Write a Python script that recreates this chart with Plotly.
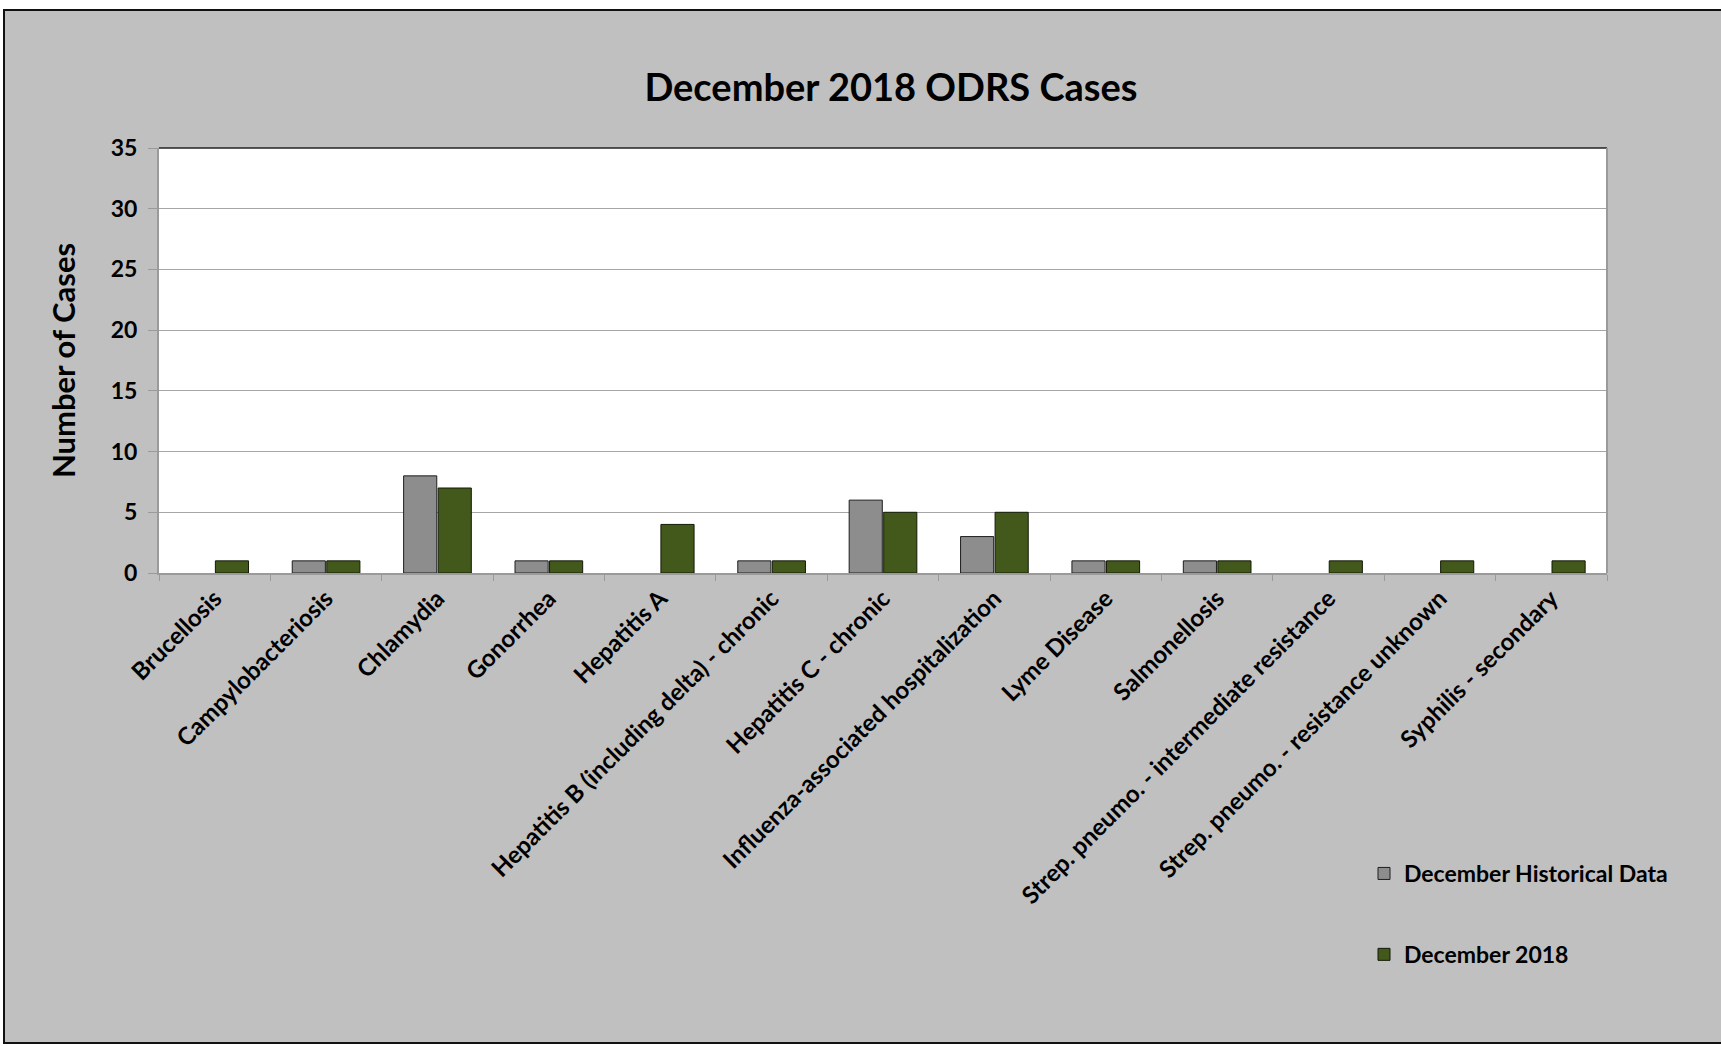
import plotly.graph_objects as go

categories = [
    "Brucellosis", "Campylobacteriosis", "Chlamydia", "Gonorrhea", "Hepatitis A",
    "Hepatitis B (including delta) - chronic", "Hepatitis C - chronic",
    "Influenza-associated hospitalization", "Lyme Disease", "Salmonellosis",
    "Strep. pneumo. - intermediate resistance", "Strep. pneumo. - resistance unknown",
    "Syphilis - secondary",
]
# None = no bar shown in the reference
historical = [None, 1, 8, 1, None, 1, 6, 3, 1, 1, None, None, None]
dec2018 = [1, 1, 7, 1, 4, 1, 5, 5, 1, 1, 1, 1, 1]
y_ticks = [0, 5, 10, 15, 20, 25, 30, 35]

FONT = "Lato"

fig = go.Figure()
fig.add_trace(go.Bar(
    x=categories, y=historical, name="<b>December Historical Data</b>",
    marker=dict(color="#8d8d8d", line=dict(color="#1e1e1e", width=1)),
    legendgroup="a",
))
fig.add_trace(go.Bar(
    x=categories, y=dec2018, name="<b>December 2018</b>",
    marker=dict(color="#42591b", line=dict(color="#141a08", width=1)),
    legendgroup="b",
))

L, R, T, B = 159, 114, 148, 473
W, H = 1721, 1046
pw, ph = W - L - R, H - T - B

def px_x(p):
    return (p - L) / pw

def px_y(p):
    return (H - B - p) / ph

shapes = [
    dict(type="rect", xref="paper", yref="paper", x0=px_x(-5), x1=px_x(W + 5), y0=px_y(10), y1=px_y(-5),
         fillcolor="white", line=dict(width=0), layer="below"),
    dict(type="rect", xref="paper", yref="paper", x0=px_x(-5), x1=px_x(4), y0=px_y(H + 5), y1=px_y(-5),
         fillcolor="white", line=dict(width=0), layer="below"),
    dict(type="rect", xref="paper", yref="paper", x0=px_x(-5), x1=px_x(W + 5), y0=px_y(H + 5), y1=px_y(1043),
         fillcolor="white", line=dict(width=0), layer="below"),
    dict(type="rect", xref="paper", yref="paper", x0=px_x(4), x1=px_x(W + 10), y0=px_y(1043), y1=px_y(10),
         fillcolor="rgba(0,0,0,0)", line=dict(color="#111111", width=2), layer="above"),
    dict(type="line", xref="paper", yref="paper", x0=0, x1=1, y0=1, y1=1,
         line=dict(color="#222222", width=1.5)),
    dict(type="line", xref="paper", yref="paper", x0=1, x1=1, y0=0, y1=1,
         line=dict(color="#9a9a9a", width=2)),
]

fig.update_layout(
    width=W, height=H,
    margin=dict(l=L, r=R, t=T, b=B, pad=0),
    paper_bgcolor="#c0c0c0",
    plot_bgcolor="white",
    font=dict(family=FONT, color="black"),
    title=dict(text="<b>December 2018 ODRS Cases</b>", x=px_x(891), xref="paper", xanchor="center",
               y=1 - 88 / H, yanchor="middle", font=dict(size=38, family=FONT, color="black")),
    barmode="group", bargap=0.38, bargroupgap=0.04,
    showlegend=True,
    legend=dict(x=px_x(1364), y=px_y(852), xanchor="left", yanchor="top",
                bgcolor="rgba(0,0,0,0)", font=dict(size=23, family=FONT, color="black"),
                tracegroupgap=48, traceorder="grouped", itemwidth=30),
    shapes=shapes,
)
fig.update_xaxes(
    tickangle=-45, tickvals=categories, ticktext=["<b>%s</b>" % c for c in categories],
    tickfont=dict(size=24, family=FONT, color="black"),
    showline=True, linecolor="#9a9a9a", linewidth=2, mirror=False,
    ticks="outside", tickson="boundaries", ticklen=6, tickcolor="#9a9a9a",
    showgrid=False,
)
fig.update_yaxes(
    range=[0, 35], tickvals=y_ticks, ticktext=["<b>%d</b>" % v for v in y_ticks],
    tickfont=dict(size=23, family=FONT, color="black"),
    showline=True, linecolor="#9a9a9a", linewidth=2, mirror=False,
    ticks="outside", ticklen=9, tickcolor="#9a9a9a", ticklabelstandoff=6,
    gridcolor="#a6a6a6", gridwidth=1, zeroline=False,
    title=dict(text="<b>Number of Cases</b>", font=dict(size=31, family=FONT, color="black"), standoff=26),
)

fig.write_html("out.html", config={"displayModeBar": False},
               post_script="document.body.style.margin='0';document.body.style.overflow='hidden';")
